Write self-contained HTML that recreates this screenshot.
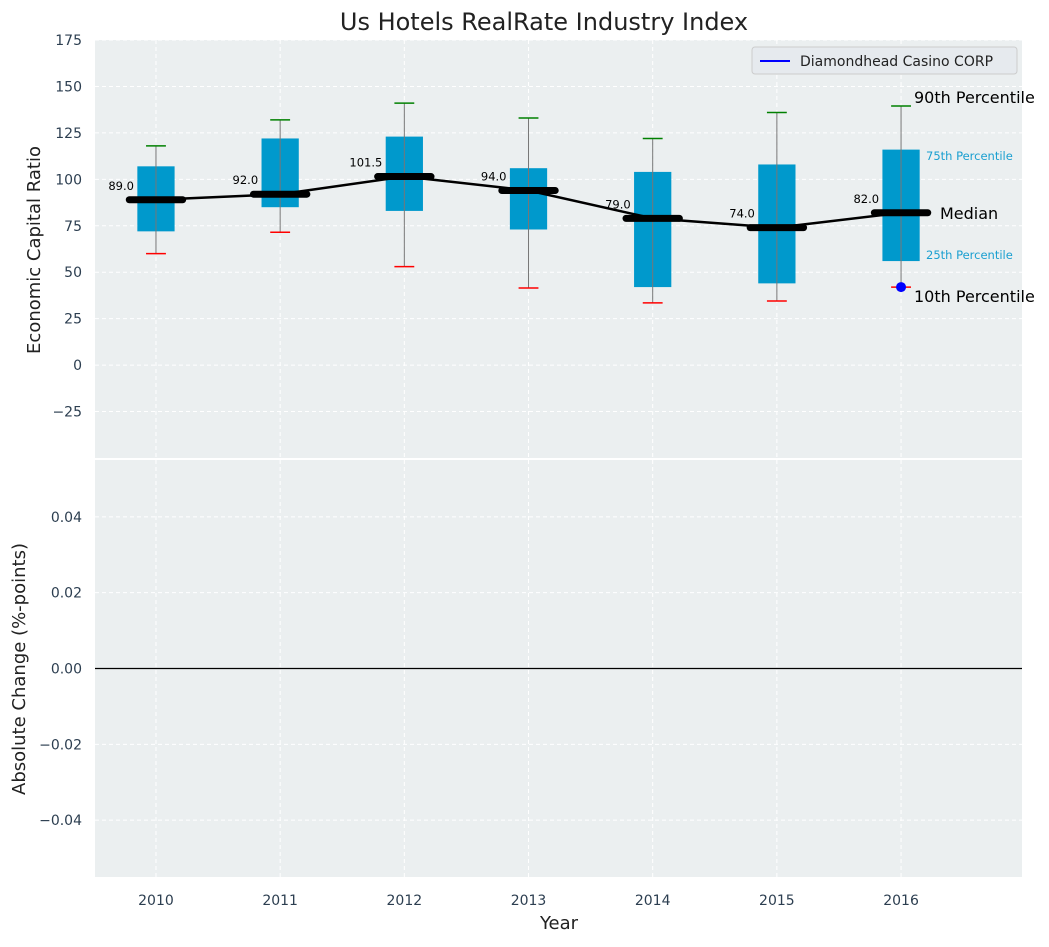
<!DOCTYPE html>
<html><head><meta charset="utf-8"><style>
body{margin:0;background:#fff;font-family:"Liberation Sans","DejaVu Sans",sans-serif}
svg text{font-family:"DejaVu Sans","Liberation Sans",sans-serif}
</style></head><body>
<svg id="chart" width="1049" height="942" xmlns="http://www.w3.org/2000/svg">
<text x="544" y="30" text-anchor="middle" font-size="24" fill="#222">Us Hotels RealRate Industry Index</text>
<rect x="95" y="40" width="927" height="418" fill="#ebeff0"/>
<rect x="95" y="460" width="927" height="417" fill="#ebeff0"/>
<g id="grid"></g><g id="marks"></g><g id="axes"></g>
<text x="40" y="250" transform="rotate(-90 40 250)" text-anchor="middle" font-size="18" fill="#222">Economic Capital Ratio</text>
<text x="25" y="669" transform="rotate(-90 25 669)" text-anchor="middle" font-size="18" fill="#222">Absolute Change (%-points)</text>
<text x="559" y="929" text-anchor="middle" font-size="18" fill="#222">Year</text>
<g>
<rect x="752" y="47" width="265" height="27" rx="3" fill="#e6eaee" stroke="#ccc"/>
<line x1="760" y1="61" x2="790" y2="61" stroke="#0000ff" stroke-width="2"/>
<text x="800" y="66" font-size="14" fill="#222">Diamondhead Casino CORP</text>
</g>
<text x="914" y="103" font-size="16" fill="#000">90th Percentile</text>
<text x="926" y="160" font-size="11.5" fill="#1a9fd0">75th Percentile</text>
<text x="940" y="219" font-size="16" fill="#000">Median</text>
<text x="926" y="259" font-size="11.5" fill="#1a9fd0">25th Percentile</text>
<text x="914" y="302" font-size="16" fill="#000">10th Percentile</text>
</svg>
<script>
const years=[2010,2011,2012,2013,2014,2015,2016];
const p10=[60,71.5,53,41.5,33.5,34.5,42];
const q1=[72,85,83,73,42,44,56];
const medians=[89,92,101.5,94,79,74,82];
const q3=[107,122,123,106,104,108,116];
const p90=[118,132,141,133,122,136,139.5];
const companyYears=[2016];
const companyValues=[42];
const topTicks=[175,150,125,100,75,50,25,0,-25];
const bottomTicks=[0.04,0.02,0,-0.02,-0.04];
const NS='http://www.w3.org/2000/svg';
const X0=2009.509,X1=2016.974;
const X=v=>95+(v-X0)/(X1-X0)*927;
const Y=v=>40+(175-v)/225*418;
const Y2=v=>460+(0.055-v)/0.11*417;
function mk(p,t,a){const e=document.createElementNS(NS,t);for(const k in a)e.setAttribute(k,a[k]);document.getElementById(p).appendChild(e);return e;}
const dash={stroke:'#fff','stroke-width':1,'stroke-dasharray':'4,3'};
topTicks.forEach(t=>{
 const g=mk('grid','line',Object.assign({x1:95,x2:1022,y1:Y(t),y2:Y(t)},dash));
 
 
 const l=mk('axes','text',{x:82,y:Y(t)+5,'text-anchor':'end','font-size':14,fill:'#2c3e50'});
 l.textContent=t<0?'\u2212'+Math.abs(t):t;
 
 
});
bottomTicks.forEach(t=>{
 const g=mk('grid','line',Object.assign({x1:95,x2:1022,y1:Y2(t),y2:Y2(t)},dash));
 
 
 const l=mk('axes','text',{x:82,y:Y2(t)+5,'text-anchor':'end','font-size':14,fill:'#2c3e50'});
 l.textContent=(t<0?'\u2212':'')+Math.abs(t).toFixed(2);
 
 
});
years.forEach(y=>{
 [[40,458],[460,877]].forEach(r=>{
  const g=mk('grid','line',Object.assign({x1:X(y),x2:X(y),y1:r[0],y2:r[1]},dash));
  
  
 });
 const l=mk('axes','text',{x:X(y),y:905,'text-anchor':'middle','font-size':14,fill:'#2c3e50'});
 l.textContent=y;
 
 
});
const zl=mk('marks','line',{x1:95,x2:1022,y1:Y2(0),y2:Y2(0),stroke:'#000','stroke-width':1.2});


const bw=0.3,cw=0.16,mw=0.43;
years.forEach((y,i)=>{
 const b=mk('marks','rect',{x:X(y-bw/2),y:Y(q3[i]),width:X(y+bw/2)-X(y-bw/2),height:Y(q1[i])-Y(q3[i]),fill:'#0099cc'});
 
 
 const w=mk('marks','line',{x1:X(y),x2:X(y),y1:Y(p10[i]),y2:Y(p90[i]),stroke:'#777','stroke-width':1});
 
 
 const ct=mk('marks','line',{x1:X(y-cw/2),x2:X(y+cw/2),y1:Y(p90[i]),y2:Y(p90[i]),stroke:'green','stroke-width':1.5});
 
 
 const cb=mk('marks','line',{x1:X(y-cw/2),x2:X(y+cw/2),y1:Y(p10[i]),y2:Y(p10[i]),stroke:'red','stroke-width':1.5});
 
 
});
const pl=mk('marks','polyline',{points:years.map((y,i)=>X(y)+','+Y(medians[i])).join(' '),fill:'none',stroke:'#000','stroke-width':2.5});


years.forEach((y,i)=>{
 const m=mk('marks','line',{x1:X(y-mw/2),x2:X(y+mw/2),y1:Y(medians[i]),y2:Y(medians[i]),stroke:'#000','stroke-width':7,'stroke-linecap':'round'});
 
 
 const t=mk('marks','text',{x:X(y)-22,y:Y(medians[i])-10,'text-anchor':'end','font-size':11.5,fill:'#000'});
 t.textContent=medians[i].toFixed(1);
 
 
});
companyYears.forEach((y,i)=>{
 const c=mk('marks','circle',{cx:X(y),cy:Y(companyValues[i]),r:5,fill:'#0000ff'});
 
 
});
</script>
</body></html>
